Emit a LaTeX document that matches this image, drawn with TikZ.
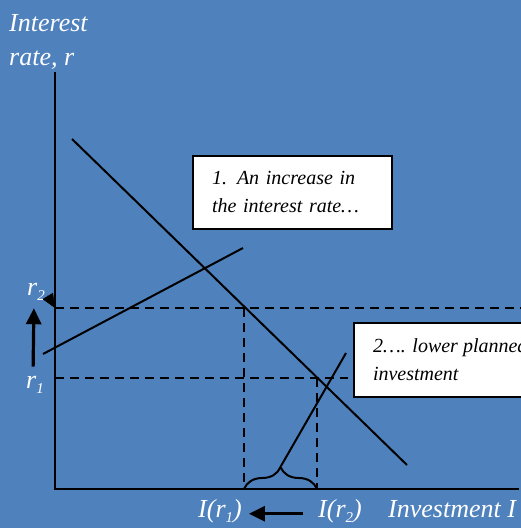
\documentclass[tikz,border=0pt]{standalone}
\usepackage{fontspec}
\setmainfont{Liberation Serif}
\usetikzlibrary{positioning, arrows.meta, calc, decorations.pathreplacing}
\definecolor{myblue}{RGB}{79,129,189}
\newcommand{\lowidx}[1]{\raisebox{-5pt}{\fontsize{15}{15}\selectfont #1}}
\tikzset{
  axis/.style={line width=2pt},
  curve/.style={line width=2pt},
  guide/.style={line width=2pt, dash pattern=on 9pt off 6pt},
  note/.style={draw, line width=2pt, fill=white, align=left,
    font=\fontsize{20}{28}\selectfont\itshape, inner xsep=19pt, inner ysep=0pt},
  lbl/.style={text=white, font=\fontsize{26}{34}\selectfont\itshape,
    inner sep=0pt, align=left},
  bigarrow/.style={line width=3.2pt, -{Triangle[length=16pt,width=15pt]}}
}

\begin{document}
\begin{tikzpicture}[x=10pt,y=-10pt]
\useasboundingbox (0,0) rectangle (52.1,52.8);
\clip (0,0) rectangle (52.1,52.8);
\fill[myblue] (0,0) rectangle (52.1,52.8);

%axes
\coordinate (O) at (5.5,48.9);
\coordinate (ytop) at (5.5,7.2);
\coordinate (xend) at (51.9,48.9);
\draw[axis] (ytop) -- (O) -- (xend);

%points on the investment line
\coordinate (A) at (24.4,30.8);
\coordinate (B) at (31.7,37.8);
\coordinate (rightedge) at (52.3,30.8);
\coordinate (r1end) at (34.8,37.8);

\draw[guide] (O |- A) -- (rightedge);
\draw[guide] (O |- B) -- (r1end);
\draw[guide] (A) -- (A |- O);
\draw[guide] (B) -- (B |- O);

%investment function and pointer line
\coordinate (inv1) at (7.2,13.9);
\coordinate (inv2) at (40.7,46.5);
\draw[curve] (inv1) -- (inv2);
\coordinate (ptr1) at (4.3,35.4);
\coordinate (ptr2) at (24.3,24.8);
\draw[curve] (ptr1) -- (ptr2);

%brace under the drop
\draw[curve, decorate, decoration={brace, amplitude=22pt}] (A |- O) -- (B |- O);
\coordinate (bracetip) at (28.1,46.6);
\coordinate (ptr3) at (34.6,35.3);
\draw[curve] (bracetip) -- (ptr3);

%boxes
\node [note, minimum width=199pt, minimum height=73pt, text width=161pt]
  (box1) at (29.25,19.25) {1. An increase in\\the interest rate…};
\node [note, anchor=west, minimum height=74pt] (box2) at (35.3,36.0)
  {2…. lower planned\\investment};

%labels
\node [lbl, anchor=north west] (ylab) at (0.9,1.4) {Interest\\rate, r};
\node [lbl, anchor=base west] (r2lab) at (2.7,29.5) {r\lowidx{2}};
\node [lbl, anchor=base west] (r1lab) at (2.6,38.8) {r\lowidx{1}};
\node [lbl, anchor=base west] (Ir1) at (19.8,51.7) {I(r\lowidx{1})};
\node [lbl, anchor=base west] (Ir2) at (31.8,51.7) {I(r\lowidx{2})};
\node [lbl, anchor=base west] (xlab) at (38.8,51.7) {Investment I};

%arrows
\draw[bigarrow, shorten <=9pt, shorten >=8pt] ([xshift=-2pt]r1lab.north) -- ([xshift=-2pt]r2lab.south);
\draw[bigarrow, shorten <=15pt, shorten >=7pt] ([yshift=-3pt]Ir2.west) -- ([yshift=-3pt]Ir1.east);
\draw[-{Triangle[length=14pt,width=12pt]}, line width=0.5pt, shorten <=5pt] (r2lab.east) -- (O |- A);

\end{tikzpicture}
\end{document}
